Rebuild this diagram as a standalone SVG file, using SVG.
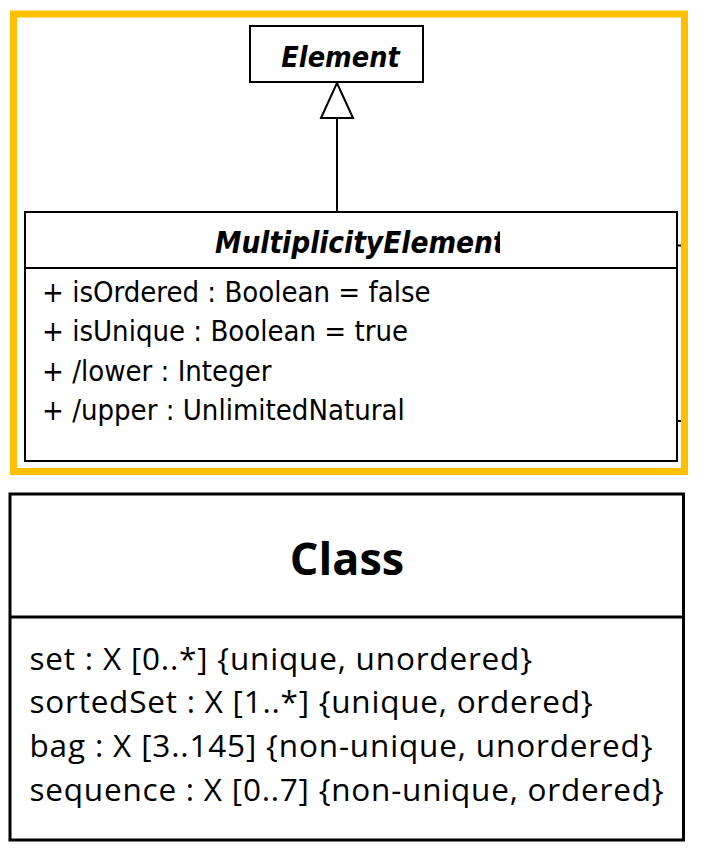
<svg xmlns="http://www.w3.org/2000/svg" width="702" height="864" viewBox="0 0 702 864">
  <style>
    .box { fill: #ffffff; stroke: #000000; stroke-width: 2; }
    .cbox { fill: #ffffff; stroke: #000000; stroke-width: 3; }
    .div { stroke: #000000; stroke-width: 2; }
    .cdiv { stroke: #000000; stroke-width: 3; }
    .frame { fill: none; stroke: #FFC000; stroke-width: 7; }
    .title { font-family: "DejaVu Sans Condensed", "DejaVu Sans", sans-serif; font-weight: bold; font-style: italic; fill: #000; }
    .attr { font-family: "DejaVu Sans Condensed", "DejaVu Sans", sans-serif; font-size: 29px; fill: #000; }
    .ctitle { font-family: "Open Sans", "Noto Sans", sans-serif; font-weight: bold; font-size: 45px; fill: #000; }
    .cattr { font-family: "Open Sans", "Noto Sans", sans-serif; font-size: 31.5px; fill: #000; }
    .conn { stroke: #000000; stroke-width: 2; fill: none; }
    .head { fill: #ffffff; stroke: #000000; stroke-width: 2; }
  </style>
  <defs>
    <clipPath id="mclip"><rect x="26" y="213" width="474" height="54"/></clipPath>
  </defs>
  <rect x="0" y="0" width="702" height="864" fill="#ffffff"/>

  <rect id="highlight-frame" class="frame" x="13.5" y="14" width="671" height="457.5"/>

  <g id="connectors">
    <line class="conn" x1="337" y1="212" x2="337" y2="118"/>
    <path class="head" d="M337,83 L353,118 L321,118 Z"/>
    <line class="conn" x1="677" y1="245.5" x2="681" y2="245.5" stroke-width="3"/>
    <line class="conn" x1="677" y1="421" x2="681" y2="421" stroke-width="3"/>
  </g>

  <g id="node-element">
    <rect class="box" x="250" y="26" width="173" height="56"/>
    <text class="title" x="340.5" y="66.5" font-size="28.5" text-anchor="middle">Element</text>
  </g>

  <g id="node-multiplicityelement">
    <rect class="box" x="25" y="212" width="652" height="249"/>
    <line class="div" x1="25" y1="268" x2="677" y2="268"/>
    <text class="title" x="215" y="252.5" font-size="29.5" clip-path="url(#mclip)">MultiplicityElement</text>
    <text class="attr" x="42" y="301.5">+ isOrdered : Boolean = false</text>
    <text class="attr" x="42" y="341">+ isUnique : Boolean = true</text>
    <text class="attr" x="42" y="380.5">+ /lower : Integer</text>
    <text class="attr" x="42" y="420">+ /upper : UnlimitedNatural</text>
  </g>

  <g id="node-class">
    <rect class="cbox" x="10" y="494" width="673.5" height="346"/>
    <line class="cdiv" x1="10" y1="617" x2="683.5" y2="617"/>
    <text class="ctitle" x="347" y="575" text-anchor="middle">Class</text>
    <text class="cattr" x="29.5" y="669.5" textLength="502.5">set : X [0..*] {unique, unordered}</text>
    <text class="cattr" x="29.5" y="713" textLength="563">sortedSet : X [1..*] {unique, ordered}</text>
    <text class="cattr" x="29.5" y="757" textLength="623">bag : X [3..145] {non-unique, unordered}</text>
    <text class="cattr" x="29.5" y="801" textLength="634">sequence : X [0..7] {non-unique, ordered}</text>
  </g>
</svg>
